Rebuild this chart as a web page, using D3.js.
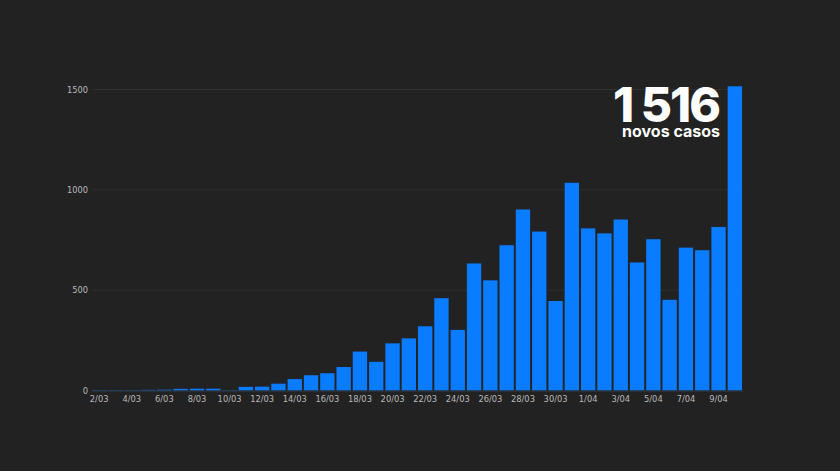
<!DOCTYPE html>
<html><head><meta charset="utf-8">
<script src="https://cdn.jsdelivr.net/npm/d3@7"></script>
<style>
html,body{margin:0;padding:0;background:#222222;}
svg{display:block;}
</style></head>
<body>
<svg id="c" width="840" height="471"></svg>
<script>
const dates = ["2/03","3/03","4/03","5/03","6/03","7/03","8/03","9/03","10/03","11/03","12/03","13/03","14/03","15/03","16/03","17/03","18/03","19/03","20/03","21/03","22/03","23/03","24/03","25/03","26/03","27/03","28/03","29/03","30/03","31/03","1/04","2/04","3/04","4/04","5/04","6/04","7/04","8/04","9/04","10/04"];
const cases = [2,2,2,3,4,8,9,9,2,18,19,34,57,76,86,117,194,143,235,260,320,460,302,633,549,724,902,792,446,1035,808,783,852,638,754,452,712,699,815,1516];
const yTicks = [0,500,1000,1500];
const headline = "1 516";
const subline = "novos casos";

const svg = d3.select("#c");
const x = d3.scaleBand().domain(dates).range([91, 743]).paddingInner(0.12).paddingOuter(0.06);
const y = d3.scaleLinear().domain([0,1500]).range([390.5, 89.5]);

// gridlines
svg.append("g").selectAll("line").data(yTicks.filter(d=>d>0)).join("line")
  .attr("x1", 93).attr("x2", 743)
  .attr("y1", d=>y(d)).attr("y2", d=>y(d))
  .attr("stroke", "#2f2f2f").attr("stroke-width", 1);

// y axis labels
const yAxis = d3.axisLeft(y).tickValues(yTicks).tickSize(0).tickPadding(0).tickFormat(d3.format("d"));
const gy = svg.append("g").attr("transform","translate(88,0)").call(yAxis);
gy.select(".domain").remove();
gy.selectAll("text").attr("fill","#b8b8b8").attr("font-family","DejaVu Sans").attr("font-size","8.3px");

// bars
svg.append("g").selectAll("rect").data(dates).join("rect")
  .attr("x", d=>x(d)).attr("width", x.bandwidth())
  .attr("y", (d,i)=>y(cases[i])).attr("height", (d,i)=>y(0)-y(cases[i]))
  .attr("fill", "#0a7cff");

// baseline
svg.append("line").attr("x1",93).attr("x2",743).attr("y1",y(0)+0.5).attr("y2",y(0)+0.5)
  .attr("stroke","#2f3a48").attr("stroke-width",1);

// x axis
const xAxis = d3.axisBottom(x).tickValues(dates.filter((d,i)=>i%2===0 && i<39)).tickSize(0).tickPadding(0);
const gx = svg.append("g").attr("transform","translate(0,396)").call(xAxis);
gx.select(".domain").remove();
gx.selectAll("text").attr("fill","#b8b8b8").attr("font-family","DejaVu Sans").attr("font-size","8.3px").attr("dy","0.71em");

// headline
svg.append("text").attr("x",719).attr("y",121.5).attr("text-anchor","end")
  .attr("fill","#ffffff").attr("font-family","Inter").attr("font-weight",800)
  .attr("font-size","48px").attr("letter-spacing","-2px").text(headline);
svg.append("text").attr("x",720).attr("y",137).attr("text-anchor","end")
  .attr("fill","#ffffff").attr("font-family","Inter").attr("font-weight",700)
  .attr("font-size","16px").text(subline);
</script>
</body></html>
